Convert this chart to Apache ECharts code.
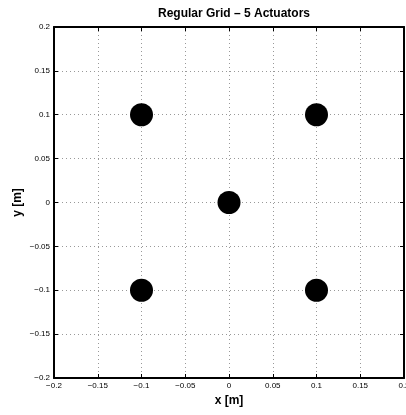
<!DOCTYPE html>
<html>
<head>
<meta charset="utf-8">
<script src="https://cdn.jsdelivr.net/npm/echarts@6/dist/echarts.min.js"></script>
<style>
html,body{margin:0;padding:0;background:#fff}
#chart{width:406px;height:415px}
</style>
</head>
<body>
<div id="chart"></div>
<script>
// actuator positions
var actX = [-0.1, 0.1, 0, -0.1, 0.1]
var actY = [0.1, 0.1, 0, -0.1, -0.1]
var axisMin = -0.2
var axisMax = 0.2
var axisStep = 0.05

var pts = actX.map(function(x, i){ return [x, actY[i]] })

function fmt(v){
    var s = (Math.round(v * 100) / 100).toString()
    return s.replace('-', '\u2212')
}

var font = 'Liberation Sans, Arial, sans-serif'

function mainAxis(name, pos){
    return {
        type: 'value',
        position: pos,
        min: axisMin, max: axisMax, interval: axisStep,
        name: name,
        nameLocation: 'middle',
        nameMoveOverlap: false,
        nameGap: pos === 'left' ? 30 : 17,
        nameTextStyle: {fontFamily: font, fontSize: 12, fontWeight: 'bold', color: '#000'},
        axisLine: {show: true, onZero: false, lineStyle: {color: '#000', width: 2}},
        axisTick: {show: true, inside: true, length: 4, lineStyle: {color: '#000'}},
        axisLabel: {show: true, fontFamily: font, fontSize: 8, color: '#000', margin: 4, formatter: fmt},
        splitLine: {show: true, lineStyle: {color: '#999', type: [1, 3], width: 1}}
    }
}

function sideAxis(pos){
    return {
        type: 'value',
        position: pos,
        min: axisMin, max: axisMax, interval: axisStep,
        axisLine: {show: true, onZero: false, lineStyle: {color: '#000', width: 2}},
        axisTick: {show: true, inside: true, length: 4, lineStyle: {color: '#000'}},
        axisLabel: {show: false},
        splitLine: {show: false}
    }
}

var chart = echarts.init(document.getElementById('chart'))
var option = {
    animation: false,
    title: {
        text: 'Regular Grid \u2013 5 Actuators',
        left: 229, textAlign: 'center', top: 3,
        textStyle: {fontFamily: font, fontSize: 12, fontWeight: 'bold', color: '#000'}
    },
    grid: {left: 54, right: 2, top: 27, bottom: 37, outerBoundsMode: 'none'},
    xAxis: [mainAxis('x [m]', 'bottom'), sideAxis('top')],
    yAxis: [mainAxis('y [m]', 'left'), sideAxis('right')],
    series: [{
        type: 'scatter',
        data: pts,
        symbol: 'circle',
        symbolSize: 23,
        itemStyle: {color: '#000', opacity: 1}
    }]
}
chart.setOption(option)
</script>
</body>
</html>
